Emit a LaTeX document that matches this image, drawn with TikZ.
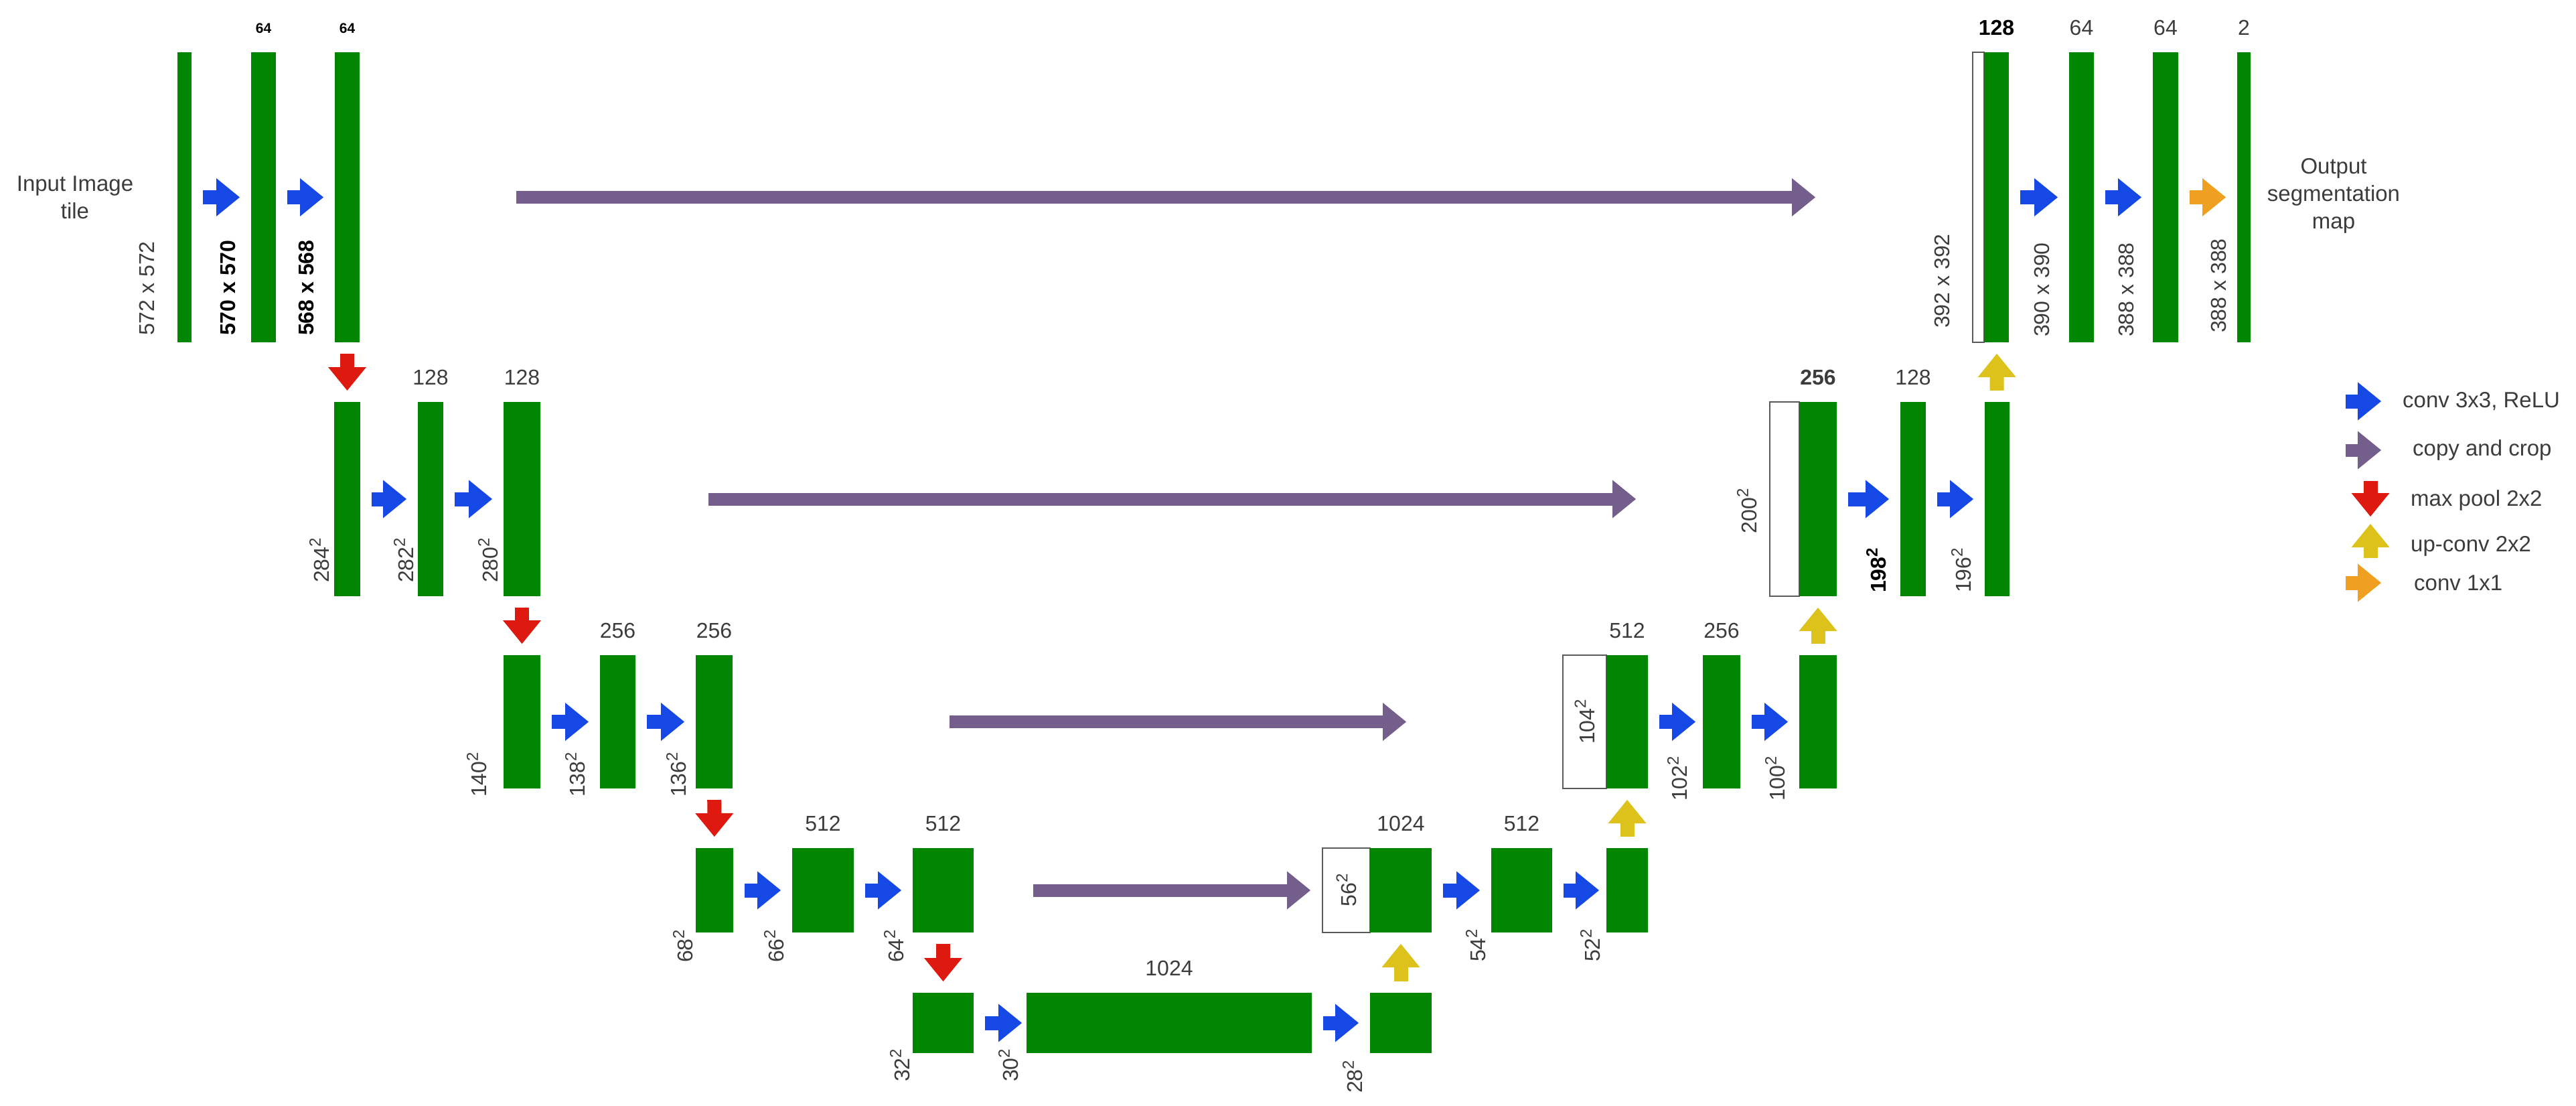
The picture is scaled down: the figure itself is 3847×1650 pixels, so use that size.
\documentclass[tikz,border=0pt]{standalone}
\usepackage{fontspec}
\setmainfont{Liberation Sans}
\usetikzlibrary{positioning,arrows.meta}

\definecolor{mapgreen}{RGB}{0,134,0}
\definecolor{convblue}{RGB}{22,72,230}
\definecolor{copypurple}{RGB}{115,94,140}
\definecolor{poolred}{RGB}{222,26,16}
\definecolor{upyellow}{RGB}{222,194,28}
\definecolor{outorange}{RGB}{240,160,32}
\definecolor{txtgray}{RGB}{60,60,60}
\definecolor{cropgray}{RGB}{90,90,90}

\newcommand\lblfont{\fontsize{32}{38}\selectfont}
\newcommand\sqd[1]{#1\raisebox{0.4em}{\fontsize{24}{24}\selectfont 2}}

\tikzset{
  fmap/.style 2 args={fill=mapgreen, inner sep=0pt, outer sep=0pt, anchor=north west,
    minimum width=#1, minimum height=#2},
  cropmap/.style 2 args={fmap={#1}{#2}, fill=white, draw=cropgray, line width=2.5pt},
  blockarrow/.style={line width=21pt, -{Triangle[width=57pt,length=35pt,line width=0pt]}},
  conv/.style={blockarrow, draw=convblue},
  copyarr/.style={blockarrow, line width=19pt, draw=copypurple},
  pool/.style={blockarrow, draw=poolred},
  upconv/.style={blockarrow, draw=upyellow},
  final/.style={blockarrow, draw=outorange},
  inrow/.style={shorten <=17pt, shorten >=17pt},
  chan/.style={font=\lblfont, text=txtgray, inner sep=0pt},
  dimlbl/.style={chan, rotate=90, anchor=west},
  legtxt/.style={font=\fontsize{33}{41}\selectfont, text=txtgray, inner sep=0pt, anchor=west},
}

\begin{document}
\begin{tikzpicture}[x=1pt,y=-1pt]
    \useasboundingbox (0,0) rectangle (3847,1650);

    % contracting path
    \node[fmap={21pt}{433pt}] (d1a) at (265,78) {};
    \node[fmap={37pt}{433pt}] (d1b) at (375,78) {};
    \node[fmap={37pt}{433pt}] (d1c) at (500,78) {};
    \node[fmap={39pt}{290pt}] (d2a) at (499,600) {};
    \node[fmap={38pt}{290pt}] (d2b) at (624,600) {};
    \node[fmap={55pt}{290pt}] (d2c) at (752,600) {};
    \node[fmap={55pt}{199pt}] (d3a) at (752,978) {};
    \node[fmap={53pt}{199pt}] (d3b) at (896,978) {};
    \node[fmap={55pt}{199pt}] (d3c) at (1039,978) {};
    \node[fmap={56pt}{126pt}] (d4a) at (1039,1266) {};
    \node[fmap={92pt}{126pt}] (d4b) at (1183,1266) {};
    \node[fmap={91pt}{126pt}] (d4c) at (1363,1266) {};
    % bottom
    \node[fmap={91pt}{90pt}] (b5a) at (1363,1482) {};
    \node[fmap={426pt}{90pt}] (b5b) at (1533,1482) {};
    \node[fmap={92pt}{90pt}] (b5c) at (2046,1482) {};
    % expansive path
    \node[cropmap={71pt}{126pt}] (u4crop) at (1975,1266) {};
    \node[fmap={92pt}{126pt}] (u4a) at (2046,1266) {};
    \node[fmap={91pt}{126pt}] (u4b) at (2227,1266) {};
    \node[fmap={62pt}{126pt}] (u4c) at (2399,1266) {};
    \node[cropmap={65pt}{199pt}] (u3crop) at (2334,978) {};
    \node[fmap={62pt}{199pt}] (u3a) at (2399,978) {};
    \node[fmap={56pt}{199pt}] (u3b) at (2543,978) {};
    \node[fmap={56pt}{199pt}] (u3c) at (2687,978) {};
    \node[cropmap={44pt}{290pt}] (u2crop) at (2643,600) {};
    \node[fmap={56pt}{290pt}] (u2a) at (2687,600) {};
    \node[fmap={38pt}{290pt}] (u2b) at (2838,600) {};
    \node[fmap={37pt}{290pt}] (u2c) at (2964,600) {};
    \node[cropmap={17pt}{433pt}] (u1crop) at (2946,78) {};
    \node[fmap={37pt}{433pt}] (u1a) at (2963,78) {};
    \node[fmap={37pt}{433pt}] (u1b) at (3090,78) {};
    \node[fmap={38pt}{433pt}] (u1c) at (3215,78) {};
    \node[fmap={20pt}{433pt}] (u1out) at (3341,78) {};

    % arrows
    \foreach \a/\b in {d1a/d1b, d1b/d1c, d2a/d2b, d2b/d2c, d3a/d3b, d3b/d3c,
        d4a/d4b, d4b/d4c, b5b/b5c, u4a/u4b, u3b/u3c, u2a/u2b, u2b/u2c, u1a/u1b, u1b/u1c}
        \draw[conv, inrow] (\a) -- (\b);
    \draw[conv, inrow, shorten >=7pt] (b5a) -- (b5b);
    \draw[conv, inrow, shorten >=11pt] (u4b) -- (u4c);
    \draw[conv, inrow, shorten >=11pt] (u3a) -- (u3b);
    \draw[final, inrow] (u1c) -- (u1out);
    \foreach \a/\b in {d1c/d2a, d2c/d3a, d3c/d4a, d4c/b5a}
        \draw[pool, inrow] (\a) -- (\b);
    \foreach \a/\b in {b5c/u4a, u4c/u3a, u3c/u2a, u2c/u1a}
        \draw[upconv, inrow] (\a) -- (\b);
    \draw[copyarr, shorten <=234pt, shorten >=235pt] (d1c) -- (u1crop);
    \draw[copyarr, shorten <=251pt, shorten >=200pt] (d2c) -- (u2crop);
    \draw[copyarr, shorten <=324pt, shorten >=234pt] (d3c) -- (u3crop);
    \draw[copyarr, shorten <=89pt, shorten >=18pt] (d4c) -- (u4crop);

    % channel counts
    \node[chan, above=28pt of d1b, font=\fontsize{21}{24}\selectfont\bfseries, text=black] (c1b) {64};
    \node[chan, above=28pt of d1c, font=\fontsize{21}{24}\selectfont\bfseries, text=black] (c1c) {64};
    \node[chan, above=25pt of d2b] (c2b) {128};
    \node[chan, above=25pt of d2c] (c2c) {128};
    \node[chan, above=25pt of d3b] (c3b) {256};
    \node[chan, above=25pt of d3c] (c3c) {256};
    \node[chan, above=25pt of d4b] (c4b) {512};
    \node[chan, above=25pt of d4c] (c4c) {512};
    \node[chan, above=25pt of b5b] (c5b) {1024};
    \node[chan, above=25pt of u4a] (e4a) {1024};
    \node[chan, above=25pt of u4b] (e4b) {512};
    \node[chan, above=25pt of u3a] (e3a) {512};
    \node[chan, above=25pt of u3b] (e3b) {256};
    \node[chan, above=25pt of u2a, font=\lblfont\bfseries] (e2a) {256};
    \node[chan, above=25pt of u2b] (e2b) {128};
    \node[chan, above=25pt of u1a, font=\lblfont\bfseries, text=black] (e1a) {128};
    \node[chan, above=25pt of u1b] (e1b) {64};
    \node[chan, above=25pt of u1c] (e1c) {64};
    \node[chan, above=25pt of u1out] (e1out) {2};

    % map sizes
    \node[dimlbl] (s1a) at (219,501) {572 x 572};
    \node[dimlbl, font=\lblfont\bfseries, text=black] (s1b) at (340,501) {570 x 570};
    \node[dimlbl, font=\lblfont\bfseries, text=black] (s1c) at (457,501) {568 x 568};
    \node[dimlbl] (s2a) at (477,870) {\sqd{284}};
    \node[dimlbl] (s2b) at (603,870) {\sqd{282}};
    \node[dimlbl] (s2c) at (729,870) {\sqd{280}};
    \node[dimlbl] (s3a) at (712,1190) {\sqd{140}};
    \node[dimlbl] (s3b) at (859,1190) {\sqd{138}};
    \node[dimlbl] (s3c) at (1010,1190) {\sqd{136}};
    \node[dimlbl] (s4a) at (1020,1437) {\sqd{68}};
    \node[dimlbl] (s4b) at (1156,1437) {\sqd{66}};
    \node[dimlbl] (s4c) at (1335,1437) {\sqd{64}};
    \node[dimlbl] (s5a) at (1344,1615) {\sqd{32}};
    \node[dimlbl] (s5b) at (1506,1615) {\sqd{30}};
    \node[dimlbl] (s5c) at (2020,1632) {\sqd{28}};
    \node[dimlbl, anchor=center] (t4crop) at (u4crop) {\sqd{56}};
    \node[dimlbl] (t4b) at (2204,1436) {\sqd{54}};
    \node[dimlbl] (t4c) at (2375,1436) {\sqd{52}};
    \node[dimlbl, anchor=center] (t3crop) at (u3crop) {\sqd{104}};
    \node[dimlbl] (t3b) at (2505,1196) {\sqd{102}};
    \node[dimlbl] (t3c) at (2651,1196) {\sqd{100}};
    \node[dimlbl, anchor=center] (t2crop) at (2609,763) {\sqd{200}};
    \node[dimlbl, font=\lblfont\bfseries, text=black] (t2b) at (2802,885) {\sqd{198}};
    \node[dimlbl] (t2c) at (2929,885) {\sqd{196}};
    \node[dimlbl] (t1crop) at (2900,490) {392 x 392};
    \node[dimlbl] (t1b) at (3049,503) {390 x 390};
    \node[dimlbl] (t1c) at (3175,503) {388 x 388};
    \node[dimlbl] (t1out) at (3313,497) {388 x 388};

    \node[legtxt, anchor=center, align=center] (input) at (112,295) {Input Image\\tile};
    \node[legtxt, anchor=center, align=center] (output) at (3485,292) {Output\\segmentation\\map};

    % legend
    \coordinate (k1) at (3503,599);
    \node[legtxt] (k1t) at (3588,599) {conv 3x3, ReLU};
    \draw[conv] (k1) -- ++(53,0);
    \coordinate (k2) at (3503,672);
    \node[legtxt] (k2t) at (3603,672) {copy and crop};
    \draw[copyarr] (k2) -- ++(53,0);
    \coordinate (k3) at (3540,718);
    \node[legtxt] (k3t) at (3600,747) {max pool 2x2};
    \draw[pool] (k3) -- ++(0,53);
    \coordinate (k4) at (3540,833);
    \node[legtxt] (k4t) at (3600,815) {up-conv 2x2};
    \draw[upconv] (k4) -- ++(0,-51);
    \coordinate (k5) at (3503,870);
    \node[legtxt] (k5t) at (3605,870) {conv 1x1};
    \draw[final] (k5) -- ++(53,0);
\end{tikzpicture}
\end{document}
